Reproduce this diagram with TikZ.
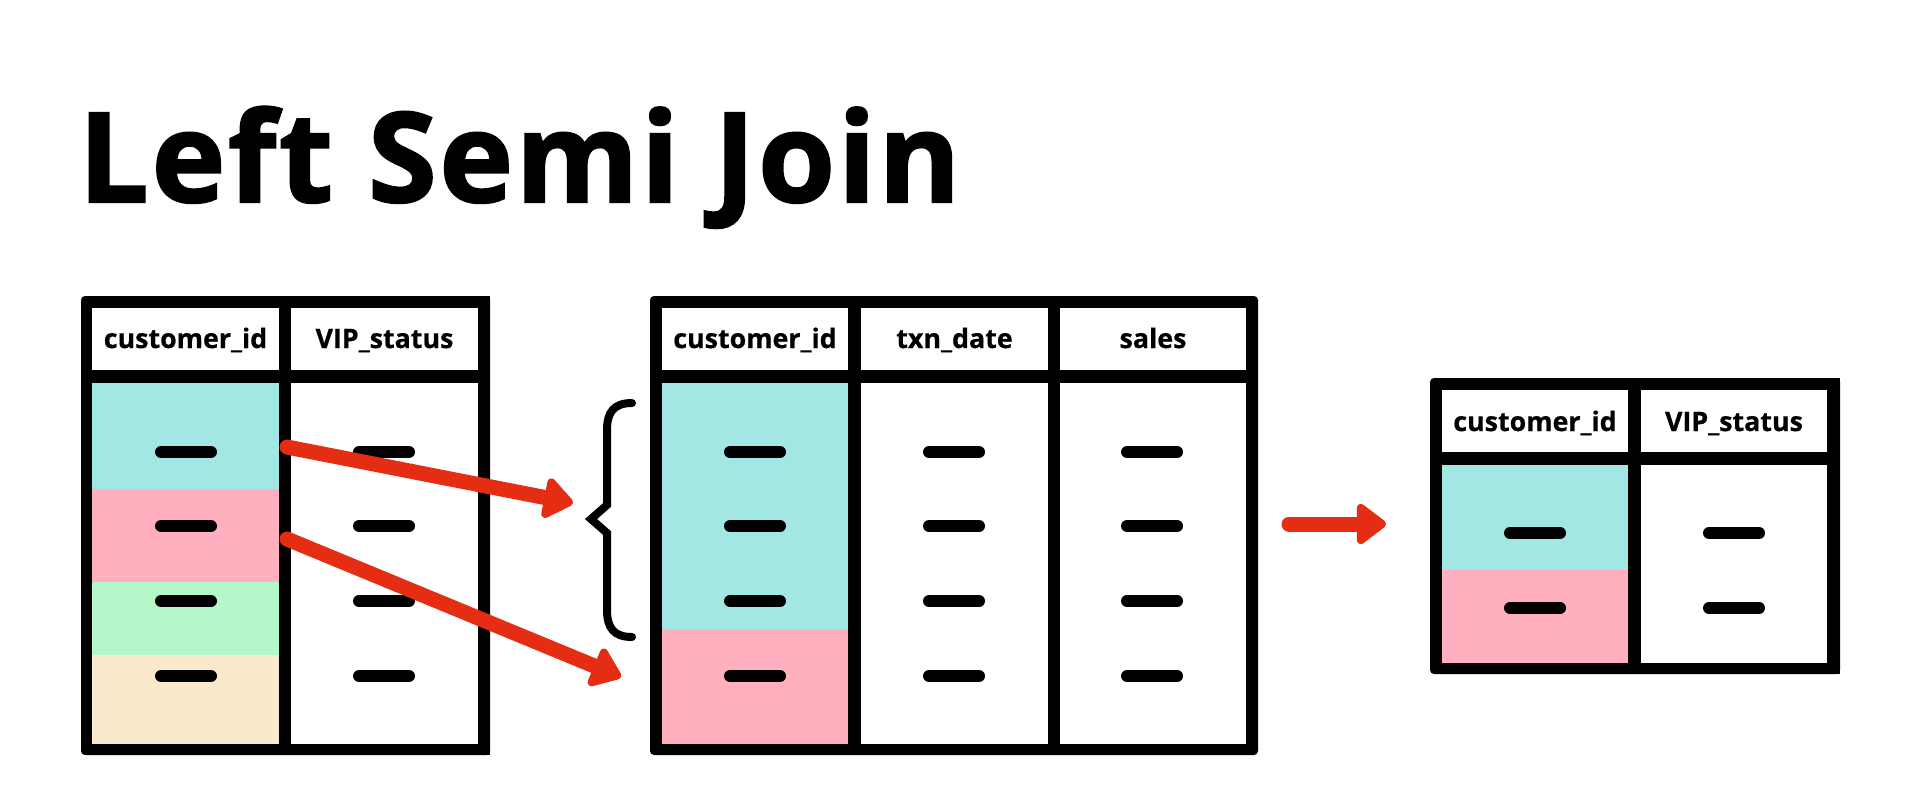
\documentclass[tikz,border=0pt]{standalone}
\usepackage{fontspec}
\setmainfont{Open Sans}
\newfontfamily\titlefont{Open Sans}[UprightFont=* Bold, FakeBold=1.6, LetterSpace=2]
\newfontfamily\hdrfont{Open Sans}[UprightFont=* Bold, FakeBold=0.6]
\usetikzlibrary{arrows.meta}
\definecolor{cy}{RGB}{163,231,228}
\definecolor{pk}{RGB}{255,175,189}
\definecolor{gr}{RGB}{180,247,200}
\definecolor{bg}{RGB}{250,233,205}
\definecolor{rd}{RGB}{229,45,20}
\begin{document}
\begin{tikzpicture}[x=0.5pt,y=-0.5pt,
  frame/.style={fill=black, rounded corners=2pt},
  hdr/.style={font=\hdrfont\fontsize{13.4}{15}\selectfont, inner sep=0pt, anchor=base},
  dashmark/.style={line width=6pt, line cap=round},
  redarrow/.style={draw=rd, line width=7.5pt, line cap=round, -{Triangle[width=23pt,length=16pt,round]}},
  bracestyle/.style={line width=4pt, line cap=round, line join=miter},
]
\useasboundingbox (0,0) rectangle (1920,800);
\fill[white] (0,0) rectangle (1920,800);

% title
\node[anchor=base west, inner sep=0pt, font=\titlefont\fontsize{62.5}{70}\selectfont] (title) at (78,202) {Left Semi Join};

% ---------- left table ----------
\fill[frame] (81,296) rectangle (490,755);
\fill[black] (400,296) rectangle (490,755);
\fill[white] (92,308) rectangle (279,370);
\fill[white] (291,308) rectangle (478,370);
\fill[cy] (92,383) rectangle (279,489);
\fill[pk] (92,489) rectangle (279,582);
\fill[gr] (92,582) rectangle (279,655);
\fill[bg] (92,655) rectangle (279,744);
\fill[white] (291,383) rectangle (478,744);
\node[hdr] (l1) at (185.5,348) {customer\_id};
\node[hdr] (l2) at (384.5,348) {VIP\_status};
\foreach \y in {452,526,601,676}{
  \draw[dashmark] (161,\y) -- (211,\y);
  \draw[dashmark] (359,\y) -- (409,\y);
}

% ---------- middle table ----------
\fill[frame] (650,296) rectangle (1258,755);
\fill[white] (662,308) rectangle (848,370);
\fill[white] (861,308) rectangle (1048,370);
\fill[white] (1060,308) rectangle (1246,370);
\fill[cy] (662,383) rectangle (848,629);
\fill[pk] (662,629) rectangle (848,744);
\fill[white] (861,383) rectangle (1048,744);
\fill[white] (1060,383) rectangle (1246,744);
\node[hdr] (m1) at (755,348) {customer\_id};
\node[hdr] (m2) at (954.5,348) {txn\_date};
\node[hdr] (m3) at (1153,348) {sales};
\foreach \y in {452,526,601,676}{
  \draw[dashmark] (730,\y) -- (780,\y);
  \draw[dashmark] (929,\y) -- (979,\y);
  \draw[dashmark] (1127,\y) -- (1177,\y);
}

% ---------- right table ----------
\fill[frame] (1430,378) rectangle (1840,674);
\fill[black] (1700,378) rectangle (1840,674);
\fill[white] (1442,390) rectangle (1628,452);
\fill[white] (1641,390) rectangle (1827,452);
\fill[cy] (1442,465) rectangle (1628,570);
\fill[pk] (1442,570) rectangle (1628,663);
\fill[white] (1641,465) rectangle (1827,663);
\node[hdr] (r1) at (1535,431) {customer\_id};
\node[hdr] (r2) at (1734,431) {VIP\_status};
\foreach \y in {533,608}{
  \draw[dashmark] (1510,\y) -- (1560,\y);
  \draw[dashmark] (1709,\y) -- (1759,\y);
}

% ---------- brace ----------
\draw[bracestyle] (632,403) .. controls (614,403) and (607,412) .. (607,430)
  -- (607,505) -- (591,519) -- (607,533) -- (607,610)
  .. controls (607,628) and (614,637) .. (632,637);

% ---------- arrows ----------
\coordinate (s1) at (287,447);
\coordinate (e1) at (573,503);
\coordinate (s2) at (287,539);
\coordinate (e2) at (621,677);
\coordinate (s3) at (1289,524);
\coordinate (e3) at (1386,524);
\draw[redarrow] (s1) -- (e1);
\draw[redarrow] (s2) -- (e2);
\draw[redarrow] (s3) -- (e3);
\end{tikzpicture}
\end{document}
